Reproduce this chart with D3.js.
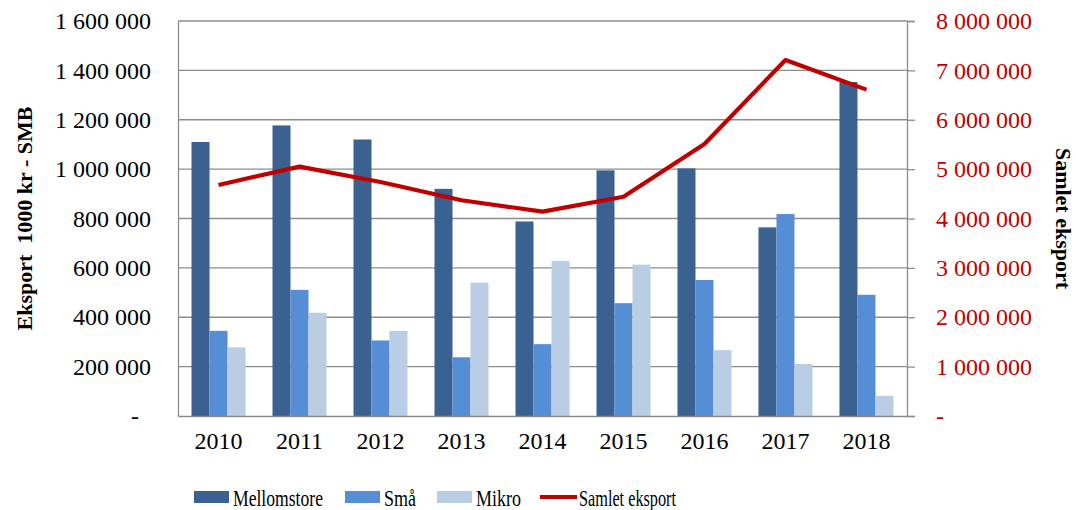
<!DOCTYPE html>
<html>
<head>
<meta charset="utf-8">
<script src="https://cdn.jsdelivr.net/npm/d3@7"></script>
<style>
  body { margin: 0; background: #fff; }
  text { font-family: "Liberation Serif", "Times New Roman", serif; }
</style>
</head>
<body>
<div id="chart"></div>
<script>
// --------------------------------------
//  Data
// --------------------------------------
const years = ["2010", "2011", "2012", "2013", "2014", "2015", "2016", "2017", "2018"];
const mellomstore = [1110000, 1177000, 1120000, 920000, 788000, 995000, 1003000, 764000, 1353000];
const smaa = [345000, 511000, 306000, 238000, 291000, 457000, 551000, 818000, 491000];
const mikro = [278000, 418000, 345000, 540000, 628000, 613000, 267000, 211000, 82000];
const samlet = [4680000, 5050000, 4740000, 4370000, 4140000, 4440000, 5510000, 7210000, 6610000];
const leftTicks = [0, 200000, 400000, 600000, 800000, 1000000, 1200000, 1400000, 1600000];
const rightTicks = [0, 1000000, 2000000, 3000000, 4000000, 5000000, 6000000, 7000000, 8000000];
const seriesNames = ["Mellomstore", "Små", "Mikro"];
const colors = ["#3b6190", "#558ed5", "#b9cde5"];
const lineColor = "#c00000";

// --------------------------------------
//  Margin and canvas
// --------------------------------------
const width = 1076, height = 510;
const margin = {top: 21, right: 169, bottom: 94, left: 178};
const innerW = width - margin.left - margin.right;
const innerH = height - margin.top - margin.bottom;

const svg = d3.select("#chart").append("svg")
  .attr("width", width).attr("height", height);

const g = svg.append("g")
  .attr("transform", `translate(${margin.left}, ${margin.top})`);

// --------------------------------------
//  Scales
// --------------------------------------
const x = d3.scaleBand().domain(years).range([0, innerW]).paddingInner(0.333).paddingOuter(0.1667);
const xSub = d3.scaleBand().domain(seriesNames).range([0, x.bandwidth()]);
const yL = d3.scaleLinear().domain([0, 1600000]).range([innerH, 0]);
const yR = d3.scaleLinear().domain([0, 8000000]).range([innerH, 0]);

const fmt = v => v === 0 ? "-" : d3.format(",")(v).replace(/,/g, " ");

// --------------------------------------
//  Grid
// --------------------------------------
g.append("g")
  .selectAll("line")
  .data(leftTicks.slice(1))
  .join("line")
    .attr("x1", 0).attr("x2", innerW)
    .attr("y1", d => yL(d)).attr("y2", d => yL(d))
    .attr("stroke", "#8c8c8c").attr("stroke-width", 1.3);

// --------------------------------------
//  Bars
// --------------------------------------
const series = [mellomstore, smaa, mikro];
series.forEach((vals, i) => {
  g.append("g")
    .selectAll("rect")
    .data(vals)
    .join("rect")
      .attr("x", (d, j) => x(years[j]) + xSub(seriesNames[i]))
      .attr("y", d => yL(d))
      .attr("width", xSub.bandwidth())
      .attr("height", d => innerH - yL(d))
      .attr("fill", colors[i]);
});

// --------------------------------------
//  Line
// --------------------------------------
const line = d3.line()
  .x((d, j) => x(years[j]) + x.bandwidth() / 2)
  .y(d => yR(d));

g.append("path")
  .attr("d", line(samlet))
  .attr("fill", "none")
  .attr("stroke", lineColor)
  .attr("stroke-width", 4.2)
  .attr("stroke-linejoin", "round");

// --------------------------------------
//  Axes
// --------------------------------------
const axL = g.append("g")
  .call(d3.axisLeft(yL).tickValues(leftTicks).tickFormat(fmt).tickSize(0).tickPadding(27));
axL.select(".domain").attr("stroke", "#8c8c8c").attr("stroke-width", 1.3);
axL.selectAll("text")
  .attr("font-size", 24).attr("fill", "#000")
  .attr("dx", d => d === 0 ? -12 : 0);

const axR = g.append("g")
  .attr("transform", `translate(${innerW}, 0)`)
  .call(d3.axisRight(yR).tickValues(rightTicks).tickFormat(fmt).tickSize(8).tickPadding(21));
axR.select(".domain").attr("stroke", "#8c8c8c").attr("stroke-width", 1.3);
axR.selectAll("line").attr("stroke", "#8c8c8c").attr("stroke-width", 1.3);
axR.selectAll("text").attr("font-size", 24).attr("fill", "#c00000");

const axB = g.append("g")
  .attr("transform", `translate(0, ${innerH})`)
  .call(d3.axisBottom(x).tickSize(0).tickPadding(16));
axB.select(".domain").attr("stroke", "#8c8c8c").attr("stroke-width", 1.3);
axB.selectAll("text").attr("font-size", 24).attr("fill", "#000");

// --------------------------------------
//  Axis titles
// --------------------------------------
svg.append("text")
  .attr("transform", `translate(32, ${margin.top + innerH / 2}) rotate(-90)`)
  .attr("text-anchor", "middle")
  .attr("font-size", 22).attr("font-weight", "bold")
  .attr("xml:space", "preserve")
  .text("Eksport  1000 kr - SMB");

svg.append("text")
  .attr("transform", `translate(1056, ${margin.top + innerH / 2}) rotate(90)`)
  .attr("text-anchor", "middle")
  .attr("font-size", 22).attr("font-weight", "bold")
  .text("Samlet eksport");

// --------------------------------------
//  Legend
// --------------------------------------
const legendItems = [
  {name: "Mellomstore", color: colors[0], type: "rect", x: 194, w: 90},
  {name: "Små", color: colors[1], type: "rect", x: 345, w: 32},
  {name: "Mikro", color: colors[2], type: "rect", x: 437, w: 45},
  {name: "Samlet eksport", color: lineColor, type: "line", x: 540, w: 97}
];
const legend = svg.append("g");
legendItems.forEach(it => {
  if (it.type === "rect") {
    legend.append("rect")
      .attr("x", it.x).attr("y", 491).attr("width", 35).attr("height", 12)
      .attr("fill", it.color);
  } else {
    legend.append("line")
      .attr("x1", it.x).attr("x2", it.x + 37).attr("y1", 497).attr("y2", 497)
      .attr("stroke", it.color).attr("stroke-width", 4.2);
  }
  legend.append("text")
    .attr("x", it.x + 39).attr("y", 506)
    .attr("font-size", 23)
    .attr("textLength", it.w).attr("lengthAdjust", "spacingAndGlyphs")
    .text(it.name);
});
</script>
</body>
</html>
